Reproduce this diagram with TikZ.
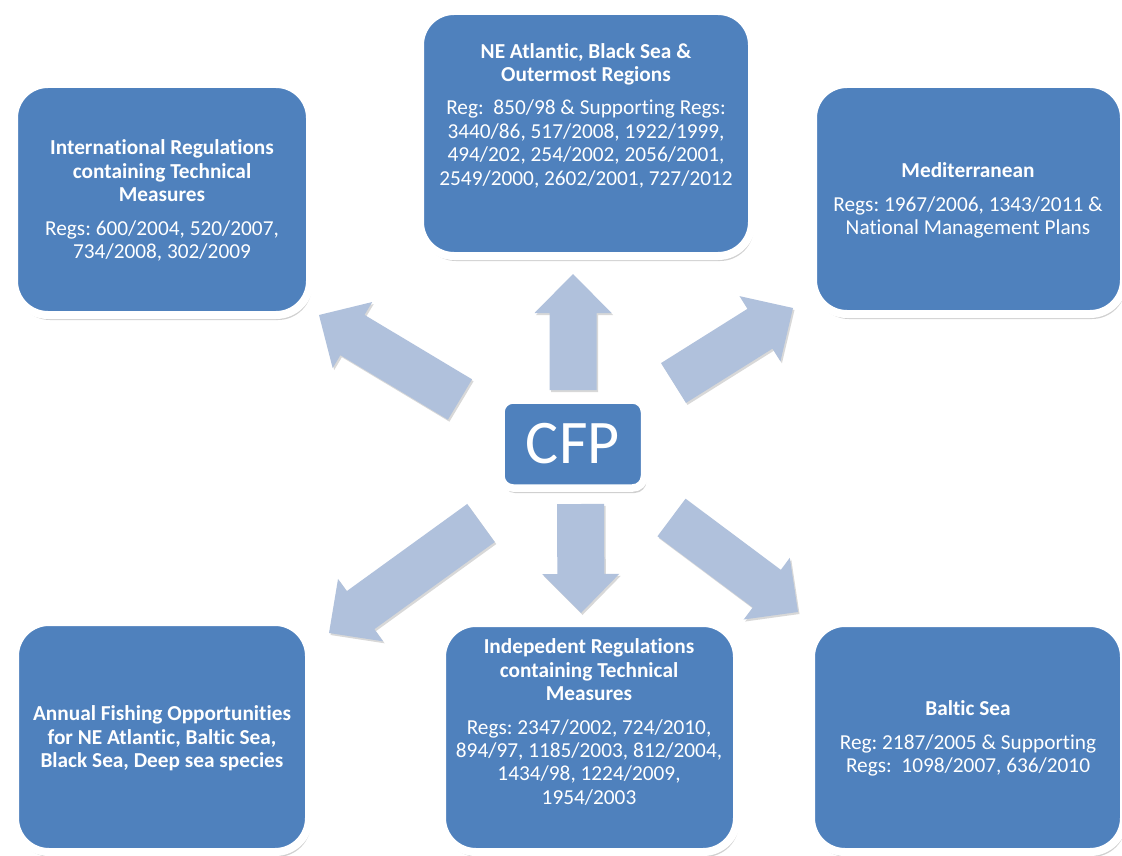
\documentclass[tikz,border=0pt]{standalone}
\usepackage{fontspec}
\setmainfont{Carlito}[Ligatures=NoCommon]
\usetikzlibrary{calc,shadows}
\definecolor{boxblue}{HTML}{4F81BD}
\definecolor{arrowblue}{HTML}{B0C1DC}
\newcommand\blockarrow[2]{%
  \fill[barrow] ($(#1)!23.5pt!90:(#2)$)
    -- ($(#2)!39pt!(#1)!23.5pt!-90:(#1)$)
    -- ($(#2)!39pt!(#1)!38.5pt!-90:(#1)$)
    -- (#2)
    -- ($(#2)!39pt!(#1)!38.5pt!90:(#1)$)
    -- ($(#2)!39pt!(#1)!23.5pt!90:(#1)$)
    -- ($(#1)!23.5pt!-90:(#2)$) -- cycle;}
\frenchspacing
\begin{document}
\begin{tikzpicture}[x=1pt,y=-1pt,
  box/.style={draw=white, line width=8pt, fill=boxblue, rounded corners=34pt,
    inner sep=0pt,
    drop shadow={shadow xshift=2pt, shadow yshift=-5pt, opacity=0.3, fill=black!60}},
  txt/.style={text=white, align=center, inner sep=0pt,
    font=\fontsize{21.3}{23.4}\selectfont},
  barrow/.style={fill=arrowblue,
    drop shadow={shadow xshift=1.5pt, shadow yshift=-2pt, opacity=0.25, fill=black!60}}]
\useasboundingbox (0,0) rectangle (1122,856);
\fill[white] (0,0) rectangle (1122,856);

% boxes
\node[box, minimum width=296pt, minimum height=231pt] (tl) at (162,199.5) {};
\node[box, minimum width=332pt, minimum height=245pt] (tc) at (586,133.5) {};
\node[box, minimum width=311pt, minimum height=230pt] (tr) at (968.5,199) {};
\node[box, minimum width=294pt, minimum height=230pt] (bl) at (162,737) {};
\node[box, minimum width=295pt, minimum height=229pt] (bc) at (589.5,737.5) {};
\node[box, minimum width=313pt, minimum height=229pt] (br) at (967.5,737.5) {};
\node[box, line width=7.5pt, rounded corners=12pt, minimum width=143.5pt, minimum height=88pt] (cfp) at (572.75,444) {};
\node[text=white, inner sep=0pt, font=\fontsize{62}{70}\selectfont] (cfpt) at (cfp) {CFP};

% texts
\node[txt] (tlt) at (162,200.5) {\textbf{International Regulations}\\\textbf{containing Technical}\\\textbf{Measures}\\[10pt]Regs: 600/2004, 520/2007,\\734/2008, 302/2009};
\node[txt] (tct) at (586,115.5) {\textbf{NE Atlantic, Black Sea \&}\\\textbf{Outermost Regions}\\[10pt]Reg:\ \ 850/98 \& Supporting Regs:\\3440/86, 517/2008, 1922/1999,\\494/202, 254/2002, 2056/2001,\\2549/2000, 2602/2001, 727/2012};
\node[txt] (trt) at (968,200.5) {\textbf{Mediterranean}\\[10pt]Regs: 1967/2006, 1343/2011 \&\\National Management Plans};
\node[txt] (blt) at (162,738.5) {\textbf{Annual Fishing Opportunities}\\\textbf{for NE Atlantic, Baltic Sea,}\\\textbf{Black Sea, Deep sea species}};
\node[txt] (bct) at (589,722) {\textbf{Indepedent Regulations}\\\textbf{containing Technical}\\\textbf{Measures}\\[10pt]Regs: 2347/2002, 724/2010,\\894/97, 1185/2003, 812/2004,\\1434/98, 1224/2009,\\1954/2003};
\node[txt] (brt) at (968,738.5) {\textbf{Baltic Sea}\\[10pt]Reg: 2187/2005 \& Supporting\\Regs:\ \ 1098/2007, 636/2010};

% arrow end points
\coordinate (uT) at (573,390);   \coordinate (uH) at (573,274);
\coordinate (dT) at (580.5,504); \coordinate (dH) at (581,613);
\coordinate (ulT) at (460,399.5); \coordinate (ulH) at (319,315);
\coordinate (urT) at (673.5,383); \coordinate (urH) at (793,308);
\coordinate (llT) at (481,523);   \coordinate (llH) at (329,633);
\coordinate (lrT) at (671.5,517.5); \coordinate (lrH) at (798,612);

\blockarrow{uT}{uH}
\blockarrow{dT}{dH}
\blockarrow{ulT}{ulH}
\blockarrow{urT}{urH}
\blockarrow{llT}{llH}
\blockarrow{lrT}{lrH}
\end{tikzpicture}
\end{document}
